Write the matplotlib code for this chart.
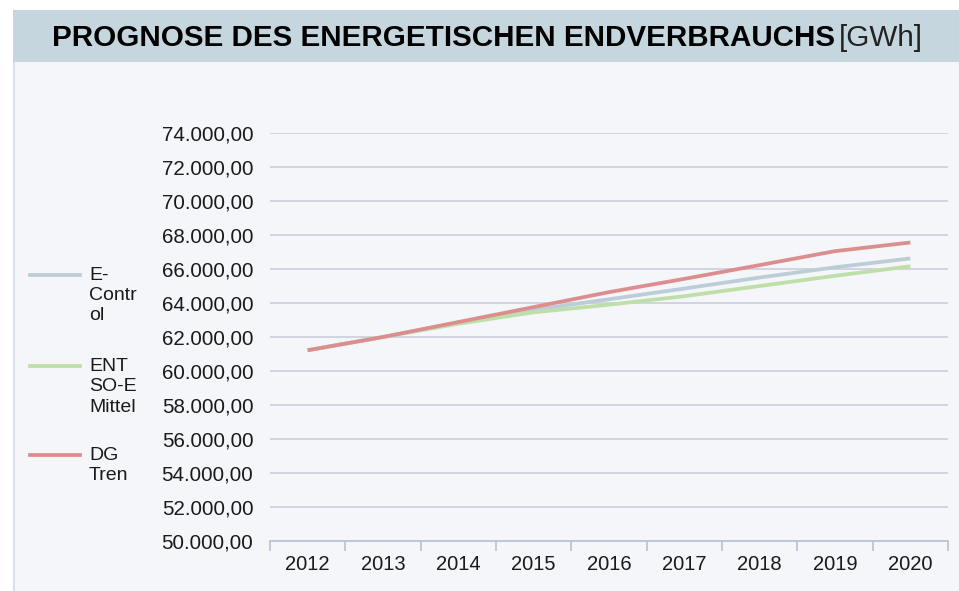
"""Prognose des energetischen Endverbrauchs"""

import matplotlib.pyplot as plt
from matplotlib import font_manager
from matplotlib.lines import Line2D
from matplotlib.patches import Rectangle
from matplotlib.ticker import FuncFormatter, FixedLocator

years = ['2012', '2013', '2014', '2015', '2016', '2017', '2018', '2019', '2020']
e_control = [61220, 62000, 62850, 63600, 64220, 64850, 65500, 66100, 66620]
entsoe_mittel = [61220, 62000, 62780, 63450, 63900, 64400, 65000, 65600, 66160]
dg_tren = [61220, 62000, 62880, 63760, 64640, 65420, 66230, 67050, 67560]

series_labels = ['E-\nContr\nol', 'ENT\nSO-E\nMittel', 'DG\nTren']
series_colors = ['#bccdd8', '#bfdfa8', '#dc8e8e']

names = {f.name for f in font_manager.fontManager.ttflist}
base_font = 'Liberation Sans' if 'Liberation Sans' in names else 'DejaVu Sans'
plt.rcParams['font.family'] = base_font

W, H = 959, 591
fig = plt.figure(figsize=(W / 100, H / 100), dpi=100)
fig.patch.set_facecolor('white')

# panel background, title bar and left border
fig.add_artist(Rectangle((13 / W, 0), 1 - 13 / W, 1 - 62 / H, transform=fig.transFigure,
                         facecolor='#f4f6fa', edgecolor='none', zorder=0))
fig.add_artist(Rectangle((13 / W, 1 - 62 / H), 1 - 13 / W, 52 / H, transform=fig.transFigure,
                         facecolor='#c6d6de', edgecolor='none', zorder=0))
fig.add_artist(Line2D([14 / W, 14 / W], [0, 1 - 62 / H], transform=fig.transFigure,
                      color='#d3dbe6', lw=1.2))

t1 = fig.text(52 / W, 1 - 38 / H, 'PROGNOSE DES ENERGETISCHEN ENDVERBRAUCHS',
              fontsize=21.3, fontweight='bold', va='center', ha='left')
fig.canvas.draw()
bb = t1.get_window_extent()
fig.text(bb.x1 / W + 4 / W, 1 - 38 / H, '[GWh]', fontsize=21.3,
         va='center', ha='left', color='#222222')

ax = fig.add_axes([270 / W, 50 / H, 678 / W, 1 - 133 / H - 50 / H])
ax.set_facecolor('none')

x = range(len(years))
for vals, col in zip([e_control, entsoe_mittel, dg_tren], series_colors):
    ax.plot(x, vals, color=col, lw=2.7, solid_capstyle='butt', zorder=3)

ax.set_xlim(-0.5, len(years) - 0.5)
ax.set_ylim(50000, 74000)
ax.yaxis.set_major_locator(FixedLocator(range(50000, 74001, 2000)))
ax.yaxis.set_major_formatter(FuncFormatter(
    lambda v, p: f'{v:,.2f}'.replace(',', 'X').replace('.', ',').replace('X', '.')))
ax.grid(axis='y', color='#c9cfdc', lw=1.2, zorder=1)
ax.tick_params(axis='y', length=0, pad=12, labelsize=14.8, labelcolor='#1a1a1a')

ax.set_xticks(list(x))
ax.set_xticklabels(years)
ax.set_xticks([i - 0.5 for i in range(len(years) + 1)], minor=True)
ax.tick_params(axis='x', which='major', length=0, pad=10, labelsize=14.5, labelcolor='#1a1a1a')
ax.tick_params(axis='x', which='minor', length=7, color='#b8c2d2', width=1.2)

for side in ['top', 'right', 'left']:
    ax.spines[side].set_visible(False)
ax.spines['bottom'].set_color('#b8c2d2')
ax.spines['bottom'].set_linewidth(1.2)

# legend on the left
legend_y = [275, 366, 455]
for lab, col, yy in zip(series_labels, series_colors, legend_y):
    fig.add_artist(Line2D([30 / W, 80 / W], [1 - yy / H, 1 - yy / H],
                          transform=fig.transFigure, color=col, lw=2.7))
    fig.text(89 / W, 1 - (yy - 8) / H, lab, fontsize=14, va='top', ha='left',
             linespacing=1.25, color='#1a1a1a')

fig.savefig('out.png', dpi=100, facecolor=fig.get_facecolor())
